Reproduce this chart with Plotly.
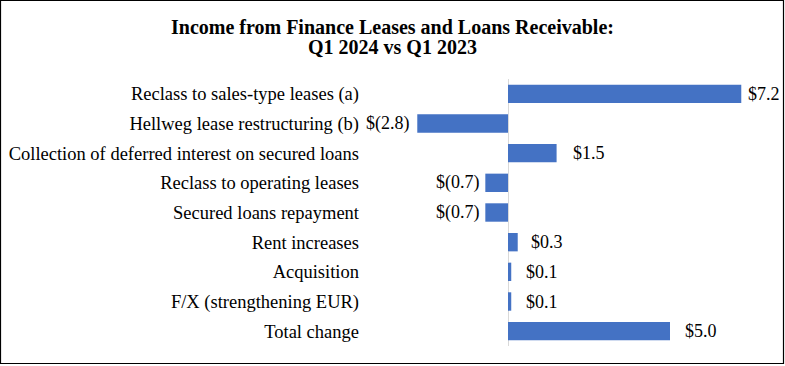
import plotly.graph_objects as go

categories = [
    "Reclass to sales-type leases (a)",
    "Hellweg lease restructuring (b)",
    "Collection of deferred interest on secured loans",
    "Reclass to operating leases",
    "Secured loans repayment",
    "Rent increases",
    "Acquisition",
    "F/X (strengthening EUR)",
    "Total change",
]
values = [7.2, -2.8, 1.5, -0.7, -0.7, 0.3, 0.1, 0.1, 5.0]
labels = ["$7.2", "$(2.8)", "$1.5", "$(0.7)", "$(0.7)", "$0.3", "$0.1", "$0.1", "$5.0"]
label_shift = [5, -5, 14, -3, -3, 11, 13, 13, 13]
title_lines = ["Income from Finance Leases and Loans Receivable:", "Q1 2024 vs Q1 2023"]

W, H = 785, 366
L, R, T, B = 362, 5, 79, 20
pw = W - L - R
ph = H - T - B

FONT = "Liberation Serif, Times New Roman, serif"

fig = go.Figure()
fig.add_trace(go.Bar(
    x=values, y=categories, orientation="h",
    marker=dict(color="#4472C4", line=dict(width=0)),
    width=0.62, hoverinfo="skip",
))

for v, c, t, s in zip(values, categories, labels, label_shift):
    fig.add_annotation(
        x=v, y=c, text=t, showarrow=False,
        xanchor="left" if v >= 0 else "right", xshift=s,
        font=dict(family=FONT, size=18, color="#000000"),
    )

# title lines (centered on the full figure)
for line, ypx in zip(title_lines, [27, 47]):
    fig.add_annotation(
        xref="paper", yref="paper",
        x=(W / 2 - L) / pw, y=(H - B - ypx) / ph,
        text="<b>" + line + "</b>", showarrow=False,
        xanchor="center", yanchor="middle",
        font=dict(family=FONT, size=20, color="#000000"),
    )

# outer border
fig.add_shape(type="rect", xref="paper", yref="paper",
              x0=-(L - 0.5) / pw, x1=1 + (R - 1.5) / pw,
              y0=-(B - 2.5) / ph, y1=1 + (T - 0.5) / ph,
              line=dict(color="#000000", width=1.2), fillcolor="rgba(0,0,0,0)")

fig.update_layout(
    width=W, height=H,
    margin=dict(l=L, r=R, t=T, b=B, autoexpand=False),
    paper_bgcolor="white", plot_bgcolor="white",
    showlegend=False,
    font=dict(family=FONT, size=18, color="#000000"),
    xaxis=dict(
        range=[-4.506, 8.395], showgrid=False, showticklabels=False,
        zeroline=True, zerolinecolor="#D9D9D9", zerolinewidth=1,
        fixedrange=True,
    ),
    yaxis=dict(
        autorange="reversed", showgrid=False, zeroline=False,
        ticks="", ticklabelstandoff=2, automargin=False, fixedrange=True,
        tickfont=dict(family=FONT, size=18.5, color="#000000"),
    ),
)

fig.write_html("out.html", config={"displayModeBar": False},
               post_script="document.body.style.margin='0';document.body.style.padding='0';")
